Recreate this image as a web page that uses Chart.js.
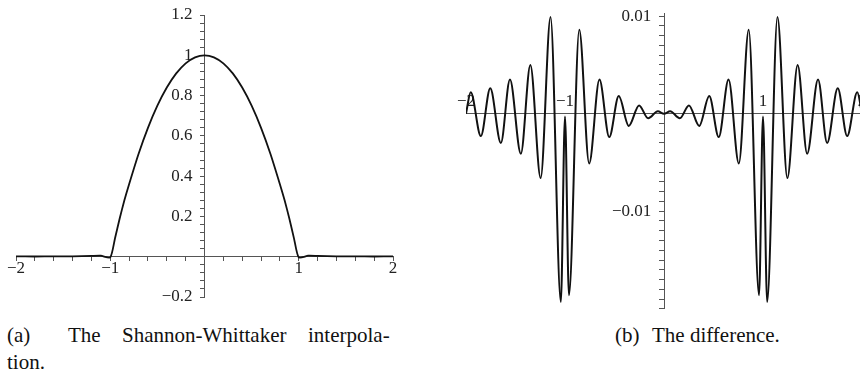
<!DOCTYPE html>
<html>
<head>
<meta charset="utf-8">
<script src="https://cdn.jsdelivr.net/npm/chart.js@4.4.1/dist/chart.umd.min.js"></script>
<style>
  html, body { margin: 0; padding: 0; background: #fff; }
  body { width: 860px; height: 374px; position: relative; overflow: hidden; }
  canvas { position: absolute; top: 0; }
  #chartA { left: 0; }
  #chartB { left: 430px; }
  .cap { position: absolute; font-family: "Liberation Serif", "Times New Roman", serif;
         font-size: 21px; line-height: 21px; color: #111; white-space: nowrap; }
</style>
</head>
<body>
<canvas id="chartA" width="430" height="320"></canvas>
<canvas id="chartB" width="450" height="322"></canvas>

<div class="cap" style="left:7px;top:325px">(a)</div>
<div class="cap" style="left:68px;top:325px">The</div>
<div class="cap" style="left:122px;top:325px">Shannon-Whittaker</div>
<div class="cap" style="left:308px;top:325px">interpola-</div>
<div class="cap" style="left:7px;top:352px">tion.</div>
<div class="cap" style="left:615px;top:325px">(b)</div>
<div class="cap" style="left:652px;top:325px">The difference.</div>

<script>
// (a) Shannon-Whittaker interpolation
const xA = [-2, -1.8, -1.6, -1.4, -1.2, -1.1, -1.0, -0.95, -0.9, -0.85, -0.8, -0.7, -0.6, -0.5, -0.4, -0.3, -0.2, -0.1,
            0, 0.1, 0.2, 0.3, 0.4, 0.5, 0.6, 0.7, 0.8, 0.85, 0.9, 0.95, 1.0, 1.1, 1.2, 1.4, 1.6, 1.8, 2];
const yA = [0.002, 0.001, 0.002, 0.002, 0.004, 0.005, -0.004, 0.09, 0.19, 0.28, 0.36, 0.51, 0.64, 0.75, 0.84, 0.91, 0.96, 0.99,
            1.0, 0.99, 0.96, 0.91, 0.84, 0.75, 0.64, 0.51, 0.36, 0.28, 0.19, 0.09, -0.004, 0.005, 0.004, 0.002, 0.002, 0.001, 0.002];

// (b) the difference (extrema)
const xB = [-2, -1.952, -1.85, -1.755, -1.648, -1.556, -1.446, -1.35, -1.246, -1.146, -1.042, -1.0, -0.96,
            -0.856, -0.756, -0.652, -0.553, -0.457, -0.356, -0.252, -0.16, -0.062, 0,
            0.062, 0.16, 0.252, 0.356, 0.457, 0.553, 0.652, 0.756, 0.856,
            0.96, 1.0, 1.042, 1.146, 1.246, 1.35, 1.446, 1.556, 1.648, 1.755, 1.85, 1.952, 2];
const yB = [0, 0.0022, -0.0023, 0.0026, -0.0030, 0.0035, -0.0041, 0.0050, -0.0066, 0.0099, -0.0193, -0.0003, -0.0186,
            0.0086, -0.0051, 0.0035, -0.0024, 0.0018, -0.00125, 0.00085, -0.00047, 0.00024, 0,
            0.00024, -0.00047, 0.00085, -0.00125, 0.0018, -0.0024, 0.0035, -0.0051, 0.0086,
            -0.0186, -0.0003, -0.0193, 0.0099, -0.0066, 0.0050, -0.0041, 0.0035, -0.0030, 0.0026, -0.0023, 0.0022, 0];

// labelled tick values
const xLabA = [-2, -1, 1, 2];
const yLabA = [-0.2, 0.2, 0.4, 0.6, 0.8, 1, 1.2];
const xLabB = [-2, -1, 1, 2];
const yLabB = [-0.01, 0.01];

const tickFont = { family: 'Liberation Serif', size: 17 };

// centred y axes draw labels flush against the axis line, so a trailing gap is added
function labeler(list, gap) {
  return v => list.some(l => Math.abs(l - v) < 1e-9) ? String(v).replace('-', '\u2212') + gap : '';
}

function plot(id, xs, ys, o) {
  return new Chart(document.getElementById(id), {
    type: 'line',
    data: {
      datasets: [{
        data: xs.map((x, i) => ({ x: x, y: ys[i] })),
        borderColor: '#111',
        borderWidth: o.lw,
        pointRadius: 0,
        cubicInterpolationMode: o.mode,
        tension: 0.2,
        fill: false
      }]
    },
    options: {
      responsive: false,
      animation: false,
      devicePixelRatio: 1,
      layout: { padding: o.pad },
      plugins: { legend: { display: false }, tooltip: { enabled: false } },
      scales: {
        x: {
          type: 'linear', min: -2, max: 2,
          position: { y: 0 },
          grid: { display: o.xTicks, drawOnChartArea: false, drawTicks: o.xTicks, tickLength: 4, color: '#555' },
          border: { display: true, color: '#555', width: 1 },
          ticks: {
            stepSize: o.xStep, autoSkip: false, maxRotation: 0, includeBounds: false,
            padding: o.xPad, font: tickFont, color: '#222',
            callback: labeler(o.xLab, '')
          }
        },
        y: {
          type: 'linear', min: o.yMin, max: o.yMax,
          position: { x: 0 },
          grid: { display: true, drawOnChartArea: false, drawTicks: true, tickLength: o.yTl, color: '#555' },
          border: { display: true, color: '#555', width: 1 },
          ticks: {
            stepSize: o.yStep, autoSkip: false, includeBounds: false,
            font: tickFont, color: '#222',
            callback: labeler(o.yLab, o.yGap)
          }
        }
      }
    }
  });
}

plot('chartA', xA, yA, {
  lw: 1.8, mode: 'default', pad: { left: 16, right: 37, top: 15, bottom: 23 },
  xTicks: true, xStep: 0.2, xPad: -2, xLab: xLabA,
  yMin: -0.2, yMax: 1.2, yStep: 0.04, yTl: 4, yGap: '  \u2009', yLab: yLabA
});

plot('chartB', xB, yB, {
  lw: 2, mode: 'monotone', pad: { left: 36, right: 18, top: 12, bottom: 12 },
  xTicks: false, xStep: 1, xPad: -22, xLab: xLabB,
  yMin: -0.02, yMax: 0.0103, yStep: 0.001, yTl: 5, yGap: '   ', yLab: yLabB
});
</script>
</body>
</html>
